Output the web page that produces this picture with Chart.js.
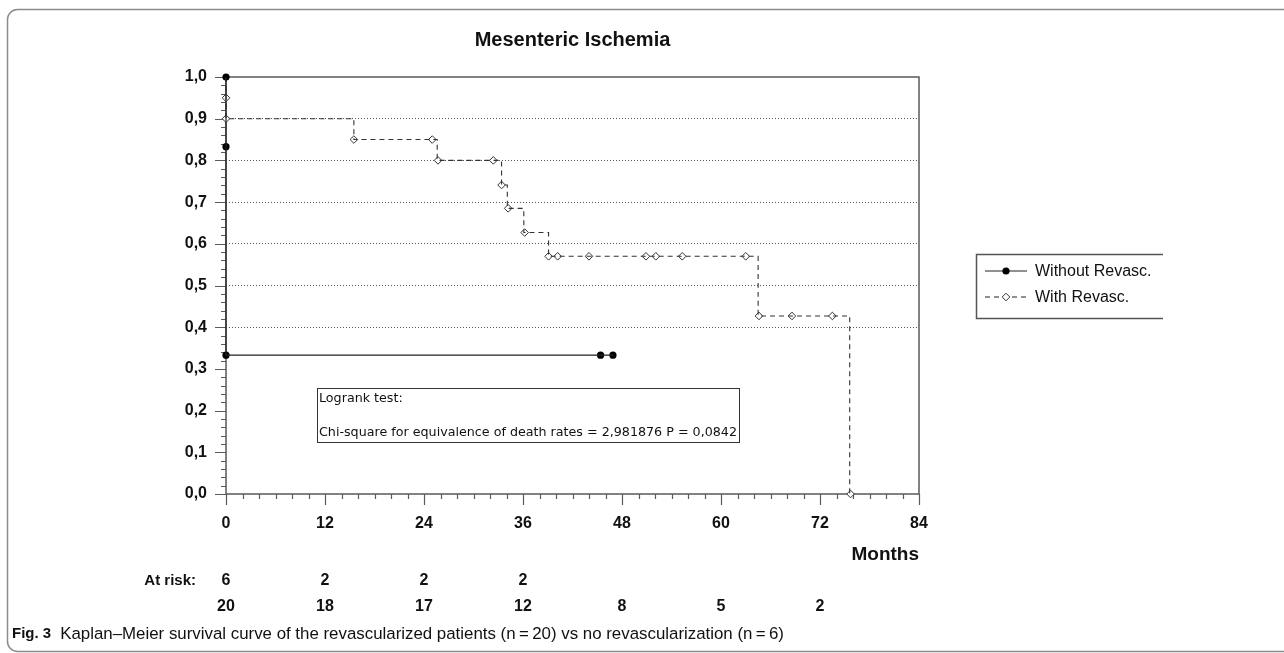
<!DOCTYPE html>
<html>
<head>
<meta charset="utf-8">
<script src="https://cdn.jsdelivr.net/npm/chart.js@4.4.1/dist/chart.umd.min.js"></script>
<style>
  html, body { margin: 0; padding: 0; background: #fff; }
  #km { display: block; }
</style>
</head>
<body>
<canvas id="km" width="1284" height="653"></canvas>
<script>
// Without revascularization (n = 6): step curve and marker points
const withoutStepT = [0, 0, 0, 46.9];
const withoutStepS = [1.0, 0.833, 0.333, 0.333];
const withoutMarkT = [0, 0, 0, 45.4, 46.9];
const withoutMarkS = [1.0, 0.833, 0.333, 0.333, 0.333];

// With revascularization (n = 20)
const withStepT = [0, 0, 0, 15.5, 25.6, 33.4, 34.1, 36.1, 39.1, 64.5, 75.6];
const withStepS = [1.0, 0.95, 0.90, 0.85, 0.80, 0.741, 0.685, 0.627, 0.570, 0.427, 0.0];
const withMarkT = [0, 0, 15.5, 25.0, 25.7, 32.4, 33.4, 34.2, 36.2, 39.1, 40.2, 44.0, 50.9, 52.1, 55.3, 63.0, 64.6, 68.6, 73.5, 75.7];
const withMarkS = [0.95, 0.90, 0.85, 0.85, 0.80, 0.80, 0.741, 0.685, 0.627, 0.57, 0.57, 0.57, 0.57, 0.57, 0.57, 0.57, 0.427, 0.427, 0.427, 0.0];

const xTicks = [0, 12, 24, 36, 48, 60, 72, 84];
const yTicks = [0, 0.1, 0.2, 0.3, 0.4, 0.5, 0.6, 0.7, 0.8, 0.9, 1.0];
const atRiskT = [0, 12, 24, 36, 48, 60, 72];
const atRiskWithout = [6, 2, 2, 2];
const atRiskWith = [20, 18, 17, 12, 8, 5, 2];

const seriesNames = ['Without Revasc.', 'With Revasc.'];
const titleText = 'Mesenteric Ischemia';
const logrankLines = ['Logrank test:', 'Chi-square for equivalence of death rates = 2,981876 P = 0,0842'];
const captionBold = 'Fig. 3';
const captionText = 'Kaplan\u2013Meier survival curve of the revascularized patients (n\u2009=\u200920) vs no revascularization (n\u2009=\u20096)';

const ink = '#111';
const axisGray = '#5a5a5a';
const sans = '"Liberation Sans", Arial, sans-serif';
const bold = size => `bold ${size}px ${sans}`;
const zip = (t, s) => t.map((x, i) => ({ x, y: s[i] }));

// fit a text to a given width by adjusting the font size
function fitFont(ctx, text, family, weight, width) {
  ctx.font = `${weight} 12px ${family}`;
  const w = ctx.measureText(text).width;
  return `${weight} ${(12 * width / w).toFixed(2)}px ${family}`;
}

function diamond(ctx, cx, cy, r) {
  ctx.beginPath();
  ctx.moveTo(cx, cy - r); ctx.lineTo(cx + r, cy); ctx.lineTo(cx, cy + r); ctx.lineTo(cx - r, cy);
  ctx.closePath();
  ctx.fillStyle = '#fff'; ctx.fill();
  ctx.lineWidth = 1; ctx.strokeStyle = '#333'; ctx.stroke();
}

const decor = {
  id: 'decor',
  beforeDatasetsDraw(chart) {
    const { ctx, chartArea: a, scales: { x, y } } = chart;
    ctx.save();
    ctx.strokeStyle = axisGray;
    ctx.lineWidth = 1.5;
    ctx.beginPath();
    ctx.moveTo(a.left, a.top); ctx.lineTo(a.right, a.top); ctx.lineTo(a.right, a.bottom);
    ctx.moveTo(a.left, a.top); ctx.lineTo(a.left, a.bottom); ctx.lineTo(a.right, a.bottom);
    ctx.stroke();
    // major and minor tick marks
    ctx.lineWidth = 1.2;
    ctx.beginPath();
    for (let i = 0; i <= 50; i++) {
      const py = Math.round(y.getPixelForValue(i / 50)) + 0.5;
      const len = i % 5 === 0 ? 11 : 5;
      ctx.moveTo(a.left - len, py); ctx.lineTo(a.left, py);
    }
    for (let m = 0; m <= 84; m += 2) {
      const px = Math.round(x.getPixelForValue(m)) + 0.5;
      const len = m % 12 === 0 ? 11 : 5;
      ctx.moveTo(px, a.bottom); ctx.lineTo(px, a.bottom + len);
    }
    ctx.stroke();
    ctx.restore();
  },
  afterDraw(chart) {
    const { ctx, chartArea: a, scales: { x } } = chart;
    ctx.save();

    // outer frame, rounded on the left
    ctx.strokeStyle = '#8c8c8c';
    ctx.lineWidth = 1.5;
    ctx.beginPath();
    ctx.moveTo(1290, 9.5);
    ctx.lineTo(18, 9.5);
    ctx.arcTo(7.5, 9.5, 7.5, 20, 10);
    ctx.lineTo(7.5, 641);
    ctx.arcTo(7.5, 651.5, 18, 651.5, 10);
    ctx.lineTo(1290, 651.5);
    ctx.stroke();

    ctx.fillStyle = ink;
    ctx.textBaseline = 'middle';

    // title
    ctx.font = bold(20);
    ctx.textAlign = 'center';
    ctx.fillText(titleText, (a.left + a.right) / 2, 40);

    // axis name
    ctx.font = bold(19);
    ctx.textAlign = 'right';
    ctx.fillText('Months', a.right, 555);

    // numbers at risk
    ctx.font = bold(15);
    ctx.fillText('At risk:', 196, 581);
    ctx.font = bold(16);
    ctx.textAlign = 'center';
    atRiskWithout.forEach((n, i) => ctx.fillText(String(n), x.getPixelForValue(atRiskT[i]), 581));
    atRiskWith.forEach((n, i) => ctx.fillText(String(n), x.getPixelForValue(atRiskT[i]), 607));

    // logrank box
    ctx.strokeStyle = '#333';
    ctx.lineWidth = 1;
    ctx.strokeRect(317.5, 388.5, 422, 54);
    ctx.textAlign = 'left';
    ctx.font = fitFont(ctx, logrankLines[1], '"DejaVu Sans", Verdana, sans-serif', 'normal', 418);
    ctx.fillText(logrankLines[0], 319, 399);
    ctx.fillText(logrankLines[1], 319, 433);

    // legend (box open on the right)
    ctx.strokeStyle = '#555';
    ctx.lineWidth = 1.5;
    ctx.beginPath();
    ctx.moveTo(1163, 254.5); ctx.lineTo(976.5, 254.5); ctx.lineTo(976.5, 318.5); ctx.lineTo(1163, 318.5);
    ctx.stroke();
    ctx.strokeStyle = '#222';
    ctx.lineWidth = 1.2;
    ctx.beginPath(); ctx.moveTo(985, 271); ctx.lineTo(1027, 271); ctx.stroke();
    ctx.beginPath(); ctx.arc(1006, 271, 3.6, 0, Math.PI * 2); ctx.fillStyle = '#000'; ctx.fill();
    ctx.setLineDash([5, 4]);
    ctx.beginPath(); ctx.moveTo(985, 297); ctx.lineTo(1027, 297); ctx.stroke();
    ctx.setLineDash([]);
    diamond(ctx, 1006, 297, 3.8);
    ctx.fillStyle = ink;
    ctx.font = `16px ${sans}`;
    ctx.fillText(seriesNames[0], 1035, 272);
    ctx.fillText(seriesNames[1], 1035, 298);

    // caption
    ctx.font = bold(15);
    ctx.fillText(captionBold, 12, 634);
    const start = 12 + ctx.measureText(captionBold).width + 9;
    ctx.font = fitFont(ctx, captionText, sans, 'normal', 785 - start);
    ctx.fillText(captionText, start, 634);

    ctx.restore();
  }
};

new Chart(document.getElementById('km'), {
  type: 'scatter',
  data: {
    datasets: [
      { type: 'line', label: seriesNames[0], data: zip(withoutStepT, withoutStepS), stepped: true,
        borderColor: '#222', borderWidth: 1.2, pointRadius: 0, fill: false, clip: false },
      { type: 'scatter', label: seriesNames[0], data: zip(withoutMarkT, withoutMarkS), pointStyle: 'circle',
        pointRadius: 3.6, backgroundColor: '#000', borderColor: '#000', borderWidth: 0, clip: false },
      { type: 'line', label: seriesNames[1], data: zip(withStepT, withStepS), stepped: true,
        borderColor: '#333', borderWidth: 1.1, borderDash: [5, 4], pointRadius: 0, fill: false, clip: false },
      { type: 'scatter', label: seriesNames[1], data: zip(withMarkT, withMarkS), pointStyle: 'rectRot',
        pointRadius: 3.8, backgroundColor: '#fff', borderColor: '#333', borderWidth: 1, clip: false }
    ]
  },
  options: {
    responsive: false,
    animation: false,
    devicePixelRatio: 1,
    layout: { padding: { left: 0, top: 77, right: 365, bottom: 119 } },
    plugins: { legend: { display: false }, tooltip: { enabled: false } },
    scales: {
      x: {
        type: 'linear', min: 0, max: 84,
        afterBuildTicks: s => { s.ticks = xTicks.map(v => ({ value: v })); },
        afterFit: s => { s.height = 40; },
        grid: { display: false, drawTicks: false },
        border: { display: false },
        ticks: { padding: 20, color: ink, font: { family: sans, size: 16, weight: 'bold' } }
      },
      y: {
        min: 0, max: 1,
        afterBuildTicks: s => { s.ticks = yTicks.map(v => ({ value: v })); },
        afterFit: s => { s.width = 226; },
        grid: {
          drawTicks: false, lineWidth: 1,
          color: c => (c.tick && c.tick.value > 0.35 && c.tick.value < 0.95) ? '#555' : 'rgba(0,0,0,0)'
        },
        border: { display: false, dash: [1, 2] },
        ticks: {
          padding: 19, color: ink, font: { family: sans, size: 16, weight: 'bold' },
          callback: v => v.toFixed(1).replace('.', ',')
        }
      }
    }
  },
  plugins: [decor]
});
</script>
</body>
</html>
